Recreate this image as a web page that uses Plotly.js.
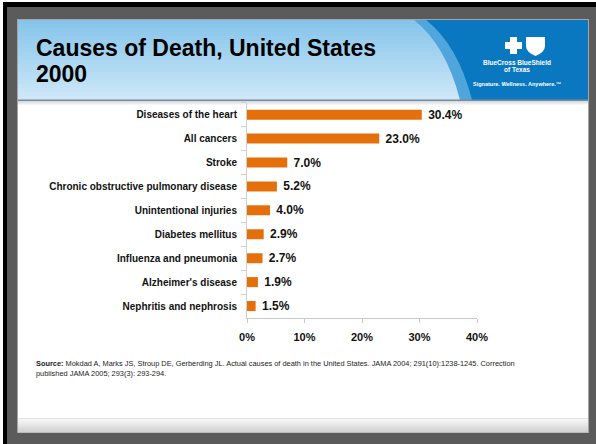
<!DOCTYPE html>
<html>
<head>
<meta charset="utf-8">
<script src="https://cdn.plot.ly/plotly-3.0.1.min.js"></script>
<style>html,body{margin:0;padding:0;background:#fff;}#chart{width:596px;height:444px;}</style>
</head>
<body>
<div id="chart"></div>
<script>
// ---- data ----
const causes = [
  "Diseases of the heart",
  "All cancers",
  "Stroke",
  "Chronic obstructive pulmonary disease",
  "Unintentional injuries",
  "Diabetes mellitus",
  "Influenza and pneumonia",
  "Alzheimer's disease",
  "Nephritis and nephrosis"
];
const percents = [30.4, 23.0, 7.0, 5.2, 4.0, 2.9, 2.7, 1.9, 1.5];
const xTickVals = [0, 10, 20, 30, 40];
const xTickText = ["0%", "10%", "20%", "30%", "40%"];

// ---- helpers (pixel -> paper) ----
const W = 596, H = 444;
const px = x => x / W;
const py = y => 1 - y / H;
const FONT = "Liberation Sans, Arial, sans-serif";

function rect(x0, y0, x1, y1, color) {
  return {type: "rect", xref: "paper", yref: "paper", x0: px(x0), x1: px(x1), y0: py(y1), y1: py(y0),
          fillcolor: color, line: {width: 0}, layer: "below"};
}
function pathShape(d, color) {
  let s = "";
  d.forEach(seg => {
    s += seg[0];
    for (let i = 1; i < seg.length; i += 2) {
      s += " " + px(seg[i]).toFixed(5) + "," + py(seg[i + 1]).toFixed(5) + " ";
    }
  });
  return {type: "path", xref: "paper", yref: "paper", path: s + "Z", fillcolor: color, line: {width: 0}, layer: "below"};
}
function hex2rgb(h) { return [1, 3, 5].map(i => parseInt(h.substr(i, 2), 16)); }
function mix(a, b, t) {
  const A = hex2rgb(a), B = hex2rgb(b);
  return "rgb(" + A.map((v, i) => Math.round(v + (B[i] - v) * t)).join(",") + ")";
}
function gradient(x0, y0, x1, y1, c0, c1, n) {
  const out = [];
  const h = (y1 - y0) / n;
  for (let i = 0; i < n; i++) {
    out.push(rect(x0, y0 + i * h, x1, y0 + (i + 1) * h + 0.6, mix(c0, c1, i / (n - 1))));
  }
  return out;
}

let shapes = [];
// outer frame
shapes.push(rect(3, 2, 596, 444, "#000000"));
shapes.push(rect(7, 7, 596, 444, "#5b5b5b"));
// slide panel
shapes.push(rect(17, 19, 589, 433, "#a5a5a5"));
shapes.push(rect(18, 20, 588, 432, "#ffffff"));
// header gradient
shapes = shapes.concat(gradient(18, 20, 588, 100, "#86c5ea", "#cde7f8", 20));
// header blue band & dark region
shapes.push(pathShape([["M", 414, 20], ["Q", 446, 45, 460, 100], ["L", 588, 100], ["L", 588, 20]], "#4ea6dc"));
shapes.push(pathShape([["M", 426, 20], ["Q", 458, 45, 472, 100], ["L", 588, 100], ["L", 588, 20]], "#0a78c0"));
// logo: cross
shapes.push(pathShape([["M", 510, 37], ["L", 517, 37], ["L", 517, 42], ["L", 522, 42], ["L", 522, 49],
  ["L", 517, 49], ["L", 517, 54], ["L", 510, 54], ["L", 510, 49], ["L", 505, 49], ["L", 505, 42], ["L", 510, 42]], "#ffffff"));
// logo: shield
shapes.push(pathShape([["M", 526, 37], ["L", 545, 37], ["L", 545, 46], ["Q", 545, 52, 535.5, 56], ["Q", 526, 52, 526, 46]], "#ffffff"));
// header bottom line + shadow
shapes.push(rect(18, 99.5, 588, 101, "#7d8b97"));
shapes = shapes.concat(gradient(18, 101, 588, 106, "#d5dbe0", "#ffffff", 5));
// footer bar
shapes.push(rect(18, 418, 588, 419, "#e4e4e4"));
shapes = shapes.concat(gradient(18, 419, 588, 432, "#f6f6f6", "#d2d2d2", 10));

const barTrace = {
  type: "bar",
  orientation: "h",
  y: causes,
  x: percents,
  width: 0.42,
  marker: {color: "#e5700b", line: {width: 0}},
  text: percents.map(v => "\u00a0" + v.toFixed(1) + "%"),
  textposition: "outside",
  constraintext: "none",
  textfont: {family: FONT, size: 12, color: "#111111", weight: "bold"},
  cliponaxis: false,
  hoverinfo: "skip"
};

const layout = {
  width: W, height: H,
  margin: {l: 0, r: 0, t: 0, b: 0, pad: 0},
  paper_bgcolor: "#ffffff",
  plot_bgcolor: "rgba(0,0,0,0)",
  showlegend: false,
  font: {family: FONT, color: "#111111"},
  title: {
    text: "<b>Causes of Death, United States</b>",
    font: {family: FONT, size: 23, color: "#000000"},
    xref: "paper", yref: "container",
    x: px(36), xanchor: "left",
    y: py(48), yanchor: "middle"
  },
  xaxis: {
    domain: [px(247), px(477)],
    range: [0, 40],
    tickvals: xTickVals,
    ticktext: xTickText,
    tickfont: {family: FONT, size: 11, color: "#111111", weight: "bold"},
    showgrid: false, zeroline: false,
    showline: true, linecolor: "#c9c9c9", linewidth: 1,
    ticks: "outside", ticklen: 4, tickcolor: "#c9c9c9",
    ticklabelstandoff: 5,
    fixedrange: true
  },
  yaxis: {
    domain: [py(318), py(102.7)],
    autorange: "reversed",
    type: "category",
    tickfont: {family: FONT, size: 10, color: "#111111", weight: "bold"},
    showgrid: false, zeroline: false,
    showline: true, linecolor: "#d0d0d0", linewidth: 1,
    ticks: "outside", ticklen: 5, tickcolor: "#d0d0d0", tickson: "boundaries",
    ticklabelstandoff: 7,
    fixedrange: true
  },
  shapes: shapes,
  annotations: [
    {xref: "paper", yref: "paper", x: px(34), y: py(74), xanchor: "left", yanchor: "middle",
     text: "<b>2000</b>", showarrow: false, font: {family: FONT, size: 23, color: "#000000"}},
    {xref: "paper", yref: "paper", x: px(517), y: py(62), xanchor: "center", yanchor: "middle",
     text: "<b>BlueCross BlueShield</b>", showarrow: false, font: {family: FONT, size: 6.5, color: "#ffffff"}},
    {xref: "paper", yref: "paper", x: px(517), y: py(70), xanchor: "center", yanchor: "middle",
     text: "<b>of Texas</b>", showarrow: false, font: {family: FONT, size: 6.5, color: "#ffffff"}},
    {xref: "paper", yref: "paper", x: px(517), y: py(84), xanchor: "center", yanchor: "middle",
     text: "<b>Signature. Wellness. Anywhere.™</b>", showarrow: false, font: {family: FONT, size: 5.5, color: "#ffffff"}},
    {xref: "paper", yref: "paper", x: px(34), y: py(368.5), xanchor: "left", yanchor: "middle", align: "left",
     text: "<b>Source:</b> Mokdad A, Marks JS, Stroup DE, Gerberding JL. Actual causes of death in the United States. JAMA 2004; 291(10):1238-1245. Correction<br>published JAMA 2005; 293(3): 293-294.",
     showarrow: false, font: {family: FONT, size: 7.4, color: "#1a1a1a"}}
  ]
};

Plotly.newPlot("chart", [barTrace], layout, {staticPlot: true, displayModeBar: false});
</script>
</body>
</html>
